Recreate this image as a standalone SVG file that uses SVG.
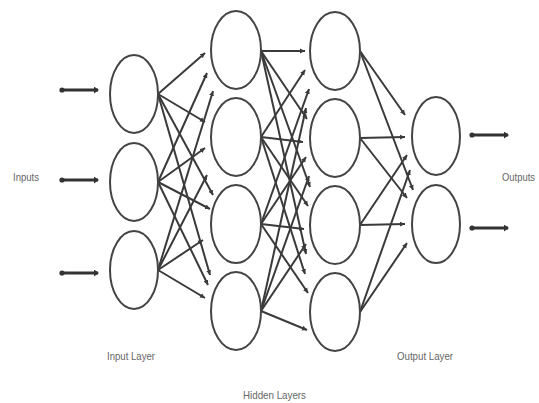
<svg xmlns="http://www.w3.org/2000/svg" width="539" height="403" viewBox="0 0 539 403">
<style>
.node ellipse{fill:#fff;stroke:#444;stroke-width:2}
.conn line{stroke:#3a3a3a;stroke-width:2;marker-end:url(#ah)}
.io line{stroke:#333;stroke-width:3;marker-end:url(#ah2);marker-start:url(#dot)}
.lbl{font-family:"Liberation Sans",Arial,sans-serif;fill:#666;font-size:11px}
</style>
<defs>
<marker id="ah" markerUnits="userSpaceOnUse" markerWidth="6" markerHeight="6" refX="5" refY="3" orient="auto"><path d="M0,0.5 L5,3 L0,5.5 z" fill="#3a3a3a"/></marker>
<marker id="ah2" markerUnits="userSpaceOnUse" markerWidth="6" markerHeight="7" refX="4" refY="3.5" orient="auto"><path d="M0,0 L5,3.5 L0,7 z" fill="#333"/></marker>
<marker id="dot" markerUnits="userSpaceOnUse" markerWidth="6" markerHeight="6" refX="3" refY="3" orient="auto"><circle cx="3" cy="3" r="2.6" fill="#333"/></marker>
</defs>
<rect width="539" height="403" fill="#fff"/>
<g id="connectors">
<g class="io">
<line x1="62" y1="90" x2="98" y2="90"/>
<line x1="62" y1="180" x2="98" y2="180"/>
<line x1="62" y1="273" x2="98" y2="273"/>
<line x1="472" y1="135" x2="508" y2="135"/>
<line x1="472" y1="228" x2="508" y2="228"/>
</g>
<g class="conn">
<line x1="158" y1="94" x2="205" y2="53"/>
<line x1="158" y1="94" x2="205" y2="122"/>
<line x1="158" y1="94" x2="213" y2="195"/>
<line x1="158" y1="94" x2="210" y2="275"/>
<line x1="158" y1="182" x2="207" y2="73"/>
<line x1="158" y1="182" x2="205" y2="148"/>
<line x1="158" y1="182" x2="210" y2="209"/>
<line x1="158" y1="182" x2="208" y2="285"/>
<line x1="158" y1="270" x2="213" y2="91"/>
<line x1="158" y1="270" x2="207" y2="175"/>
<line x1="158" y1="270" x2="203" y2="240"/>
<line x1="158" y1="270" x2="205" y2="298"/>
<line x1="261" y1="51" x2="305" y2="51"/>
<line x1="261" y1="51" x2="307" y2="119"/>
<line x1="261" y1="51" x2="310" y2="187"/>
<line x1="261" y1="51" x2="306" y2="254"/>
<line x1="261" y1="137" x2="305" y2="70"/>
<line x1="261" y1="137" x2="303" y2="142"/>
<line x1="261" y1="137" x2="308" y2="206"/>
<line x1="261" y1="137" x2="305" y2="274"/>
<line x1="261" y1="224" x2="309" y2="89"/>
<line x1="261" y1="224" x2="306" y2="157"/>
<line x1="261" y1="224" x2="304" y2="229"/>
<line x1="261" y1="224" x2="308" y2="293"/>
<line x1="261" y1="311" x2="306" y2="108"/>
<line x1="261" y1="311" x2="309" y2="176"/>
<line x1="261" y1="311" x2="306" y2="244"/>
<line x1="261" y1="311" x2="307" y2="330"/>
<line x1="360" y1="51" x2="405" y2="115"/>
<line x1="360" y1="51" x2="413" y2="190"/>
<line x1="360" y1="138" x2="405" y2="137"/>
<line x1="360" y1="138" x2="407" y2="198"/>
<line x1="360" y1="225" x2="407" y2="155"/>
<line x1="360" y1="225" x2="405" y2="224"/>
<line x1="360" y1="312" x2="410" y2="170"/>
<line x1="360" y1="312" x2="407" y2="243"/>
</g>
</g>
<g id="in1" class="node"><ellipse cx="134" cy="94" rx="24" ry="39"/></g>
<g id="in2" class="node"><ellipse cx="134" cy="182" rx="24" ry="39"/></g>
<g id="in3" class="node"><ellipse cx="134" cy="270" rx="24" ry="39"/></g>
<g id="h1a" class="node"><ellipse cx="236" cy="50" rx="25" ry="39"/></g>
<g id="h1b" class="node"><ellipse cx="236" cy="137" rx="25" ry="39"/></g>
<g id="h1c" class="node"><ellipse cx="236" cy="224" rx="25" ry="39"/></g>
<g id="h1d" class="node"><ellipse cx="236" cy="311" rx="25" ry="39"/></g>
<g id="h2a" class="node"><ellipse cx="335" cy="51" rx="25" ry="39"/></g>
<g id="h2b" class="node"><ellipse cx="335" cy="138" rx="25" ry="39"/></g>
<g id="h2c" class="node"><ellipse cx="335" cy="225" rx="25" ry="39"/></g>
<g id="h2d" class="node"><ellipse cx="335" cy="312" rx="25" ry="39"/></g>
<g id="out1" class="node"><ellipse cx="436" cy="136" rx="24" ry="39"/></g>
<g id="out2" class="node"><ellipse cx="436" cy="224" rx="24" ry="39"/></g>
<g id="labels">
<text class="lbl" x="13" y="181" textLength="26" lengthAdjust="spacingAndGlyphs">Inputs</text>
<text class="lbl" x="502" y="181" font-size="10" textLength="33" lengthAdjust="spacingAndGlyphs">Outputs</text>
<text class="lbl" x="107" y="360" font-size="12" textLength="48" lengthAdjust="spacingAndGlyphs">Input Layer</text>
<text class="lbl" x="397" y="360" font-size="12" textLength="56" lengthAdjust="spacingAndGlyphs">Output Layer</text>
<text class="lbl" x="243" y="399" font-size="12" textLength="63" lengthAdjust="spacingAndGlyphs">Hidden Layers</text>
</g>
</svg>
